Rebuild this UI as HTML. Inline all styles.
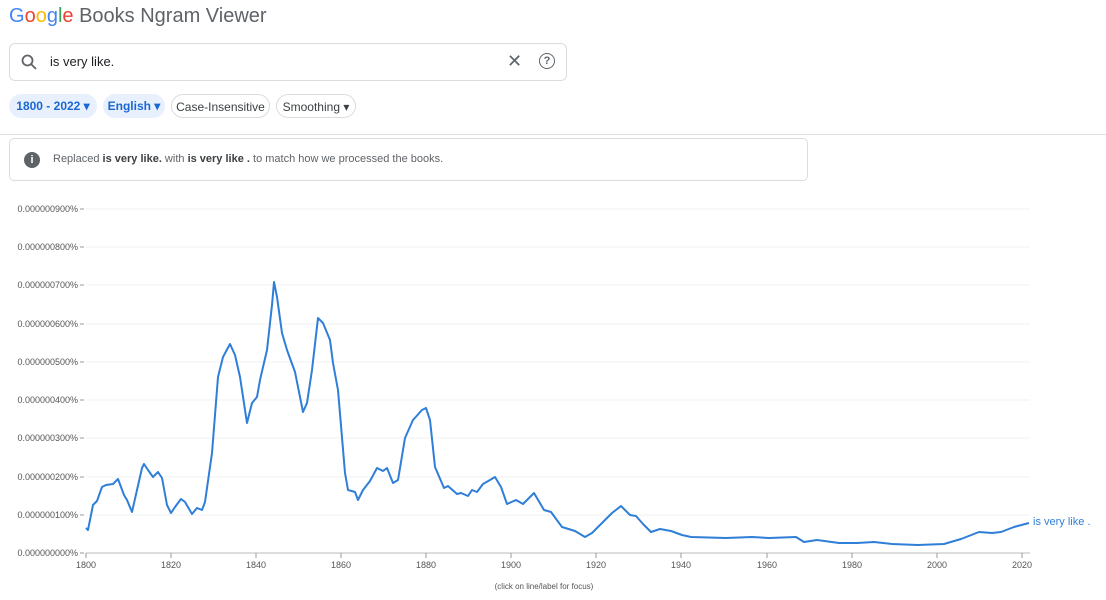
<!DOCTYPE html>
<html><head><meta charset="utf-8"><style>
body{margin:0;width:1106px;height:600px;background:#fff;font-family:"Liberation Sans",Arial,sans-serif;position:relative;overflow:hidden}
.a{position:absolute}
.chip{position:absolute;top:94px;height:24px;border-radius:12px;font-size:12px;line-height:24px;text-align:center;box-sizing:border-box}
</style></head><body>
<div class="a" style="left:9px;top:5px;font-size:20px;color:#5f6368;white-space:nowrap"><span style="color:#4285f4">G</span><span style="color:#ea4335">o</span><span style="color:#fbbc05">o</span><span style="color:#4285f4">g</span><span style="color:#34a853">l</span><span style="color:#ea4335">e</span> Books Ngram Viewer</div>
<div class="a" style="left:9px;top:43px;width:558px;height:38px;border:1px solid #dadce0;border-radius:6px;box-sizing:border-box"></div>
<svg class="a" style="left:20px;top:53px" width="18" height="18" viewBox="0 0 18 18"><circle cx="7.5" cy="7.5" r="5" fill="none" stroke="#5f6368" stroke-width="1.8"/><line x1="11" y1="11" x2="16" y2="16" stroke="#5f6368" stroke-width="1.8"/></svg>
<div class="a" style="left:50px;top:54px;font-size:13px;color:#202124">is very like.</div>
<div class="a" style="left:507px;top:51px;font-size:18px;color:#5f6368">✕</div>
<div class="a" style="left:539px;top:53px;width:14px;height:14px;border:1.6px solid #5f6368;border-radius:50%;font-size:11px;line-height:14px;text-align:center;color:#5f6368;font-weight:bold">?</div>
<div class="chip" style="left:9px;width:88px;background:#e8f0fe;color:#1967d2;font-weight:bold">1800 - 2022 ▾</div>
<div class="chip" style="left:103px;width:62px;background:#e8f0fe;color:#1967d2;font-weight:bold">English ▾</div>
<div class="chip" style="left:171px;width:99px;border:1px solid #dadce0;color:#3c4043">Case-Insensitive</div>
<div class="chip" style="left:276px;width:80px;border:1px solid #dadce0;color:#3c4043">Smoothing ▾</div>
<div class="a" style="left:0;top:134px;width:1106px;height:1px;background:#e0e0e0"></div>
<div class="a" style="left:9px;top:138px;width:799px;height:43px;border:1px solid #dadce0;border-radius:5px;box-sizing:border-box"></div>
<div class="a" style="left:24px;top:152px;width:16px;height:16px;border-radius:50%;background:#5f6368;color:#fff;font-size:11px;line-height:16px;text-align:center;font-weight:bold">i</div>
<div class="a" style="left:53px;top:153px;font-size:11px;color:#5f6368">Replaced <b style="color:#3c4043">is very like.</b> with <b style="color:#3c4043">is very like .</b> to match how we processed the books.</div>
<svg class="a" style="left:0;top:0" width="1106" height="600">
<g font-size="9" fill="#555" text-anchor="end" font-family="Liberation Sans,sans-serif">
<g stroke="#f2f2f2"><line x1="86" x2="1030" y1="209" y2="209"/><line x1="86" x2="1030" y1="247" y2="247"/><line x1="86" x2="1030" y1="285" y2="285"/><line x1="86" x2="1030" y1="324" y2="324"/><line x1="86" x2="1030" y1="362" y2="362"/><line x1="86" x2="1030" y1="400" y2="400"/><line x1="86" x2="1030" y1="438" y2="438"/><line x1="86" x2="1030" y1="477" y2="477"/><line x1="86" x2="1030" y1="515" y2="515"/></g>
<g stroke="#999"><line x1="80" x2="84" y1="209" y2="209"/><line x1="80" x2="84" y1="247" y2="247"/><line x1="80" x2="84" y1="285" y2="285"/><line x1="80" x2="84" y1="324" y2="324"/><line x1="80" x2="84" y1="362" y2="362"/><line x1="80" x2="84" y1="400" y2="400"/><line x1="80" x2="84" y1="438" y2="438"/><line x1="80" x2="84" y1="477" y2="477"/><line x1="80" x2="84" y1="515" y2="515"/><line x1="80" x2="84" y1="553" y2="553"/></g>
<text x="78" y="212">0.000000900%</text><text x="78" y="250">0.000000800%</text><text x="78" y="288">0.000000700%</text><text x="78" y="327">0.000000600%</text><text x="78" y="365">0.000000500%</text><text x="78" y="403">0.000000400%</text><text x="78" y="441">0.000000300%</text><text x="78" y="480">0.000000200%</text><text x="78" y="518">0.000000100%</text><text x="78" y="556">0.000000000%</text>
</g>
<line x1="86" x2="1030" y1="553" y2="553" stroke="#bbb"/>
<g stroke="#999"><line x1="86" x2="86" y1="553" y2="558"/><line x1="171" x2="171" y1="553" y2="558"/><line x1="256" x2="256" y1="553" y2="558"/><line x1="341" x2="341" y1="553" y2="558"/><line x1="426" x2="426" y1="553" y2="558"/><line x1="511" x2="511" y1="553" y2="558"/><line x1="596" x2="596" y1="553" y2="558"/><line x1="681" x2="681" y1="553" y2="558"/><line x1="767" x2="767" y1="553" y2="558"/><line x1="852" x2="852" y1="553" y2="558"/><line x1="937" x2="937" y1="553" y2="558"/><line x1="1022" x2="1022" y1="553" y2="558"/></g>
<g font-size="9" fill="#555" text-anchor="middle" font-family="Liberation Sans,sans-serif"><text x="86" y="568">1800</text><text x="171" y="568">1820</text><text x="256" y="568">1840</text><text x="341" y="568">1860</text><text x="426" y="568">1880</text><text x="511" y="568">1900</text><text x="596" y="568">1920</text><text x="681" y="568">1940</text><text x="767" y="568">1960</text><text x="852" y="568">1980</text><text x="937" y="568">2000</text><text x="1022" y="568">2020</text>
<text x="544" y="589" font-size="8">(click on line/label for focus)</text></g>
<polyline fill="none" stroke="#2f7ed8" stroke-width="2" stroke-linejoin="round" points="86,528 88,530 93,505 97,501 102,487 106,485 113,484 118,479 124,495 127,500 132,512 137,490 142,468 144,464 148,470 153,477 158,472 162,478 167,505 171,513 175,507 181,499 185,502 192,514 197,508 202,510 205,502 212,453 218,377 223,357 230,344 235,355 240,377 247,423 252,403 257,397 260,380 267,350 272,305 274,282 277,297 282,333 287,350 295,372 303,412 307,403 312,370 318,318 323,323 330,340 333,363 338,390 345,473 348,490 355,492 358,500 363,490 370,481 377,468 383,471 387,468 393,483 398,480 405,438 413,420 422,410 426,408 430,420 435,467 444,488 448,486 457,494 461,493 468,496 472,490 477,492 483,484 490,480 495,477 501,487 507,504 516,500 523,504 534,493 544,510 551,512 562,527 575,531 585,537 592,533 601,524 612,513 621,506 630,515 636,516 643,524 651,532 660,529 671,531 682,535 691,537 726,538 752,537 769,538 796,537 804,542 817,540 839,543 857,543 874,542 892,544 918,545 944,544 961,539 979,532 992,533 1001,532 1014,527 1029,523"/>
<text x="1033" y="525" font-size="11" fill="#2f7ed8" font-family="Liberation Sans,sans-serif">is very like .</text>
</svg>
</body></html>
